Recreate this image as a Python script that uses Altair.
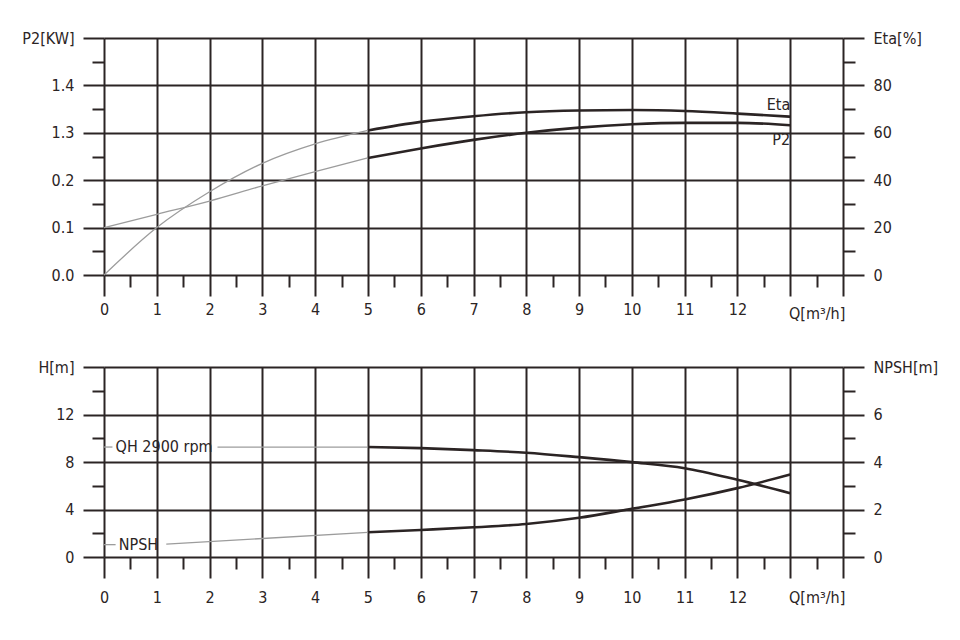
import json
import altair as alt
import pandas as pd

# ---------------- data ----------------
# upper panel: power P2 [kW] (left axis) and efficiency Eta [%] (right axis)
q_main = [5, 6, 7, 8, 9, 10, 11, 12, 13]
eta_main = [61.0, 64.6, 67.0, 68.7, 69.4, 69.6, 69.2, 68.1, 66.8]
p2_main = [0.247, 0.267, 0.285, 0.300, 0.311, 0.318, 0.321, 0.321, 0.316]
q_lead = [0, 1, 2, 3, 4, 5]
eta_lead = [0, 20.0, 35.1, 47.1, 55.3, 61.0]
p2_lead = [0.100, 0.128, 0.156, 0.188, 0.218, 0.247]

# lower panel: head H [m] (left axis) and NPSH [m] (right axis)
h_main = [9.26, 9.17, 9.00, 8.78, 8.41, 7.99, 7.48, 6.50, 5.37]
npsh_main = [1.04, 1.14, 1.25, 1.39, 1.65, 2.03, 2.42, 2.90, 3.47]
qh_lead_q = [0, 0.16, 2.15, 5]
qh_lead_h = [9.26, 9.26, 9.26, 9.26]
qh_lead_seg = [0, 0, 1, 1]
npsh_lead_q = [0, 0.22, 1.18, 5]
npsh_lead_v = [0.52, 0.52, 0.54, 1.04]
npsh_lead_seg = [0, 0, 1, 1]

# curve labels
eta_label = {"q": 13, "v": 71.7, "text": "Eta"}
p2_label = {"q": 13, "v": 0.285, "text": "P2"}
qh_label = {"q": 0.22, "v": 9.30, "text": "QH 2900 rpm"}
npsh_label = {"q": 0.28, "v": 0.52, "text": "NPSH"}

# axis tick labels
x_tick_labels = [str(i) for i in range(13)] + ["", ""]
x_unit_label = "Q[m³/h]"
p2_tick_labels = ["0.0", "0.1", "0.2", "1.3", "1.4", "P2[KW]"]
eta_tick_labels = ["0", "20", "40", "60", "80", "Eta[%]"]
h_tick_labels = ["0", "4", "8", "12", "H[m]"]
npsh_tick_labels = ["0", "2", "4", "6", "NPSH[m]"]

# ---------------- styling ----------------
FONT = "DejaVu Sans Condensed, Liberation Sans Narrow, DejaVu Sans, sans-serif"
INK = "#2b2424"
LEAD = "#9c9c9c"
FS = 16
W = 739
H_TOP = 237
H_BOT = 190
MAJOR_TICK = 21
MINOR_TICK = 12


def is_minor(step_minor):
    return f"round(datum.value/{step_minor}) % 2 === 1"


def y_axis(major, top, labels, orient, grid):
    minor = major / 2
    n = int(round(top / minor))
    vals = [round(i * minor, 4) for i in range(n + 1)]
    expr = (f"round(datum.value/{minor}) % 2 ? '' : "
            f"{json.dumps(labels)}[round(datum.value/{major})]")
    return alt.Axis(
        orient=orient,
        values=vals,
        labelExpr=expr,
        title=None,
        grid=grid,
        gridColor=INK,
        gridWidth=2,
        gridOpacity={"condition": {"test": is_minor(minor), "value": 0}, "value": 1},
        domain=False,
        tickColor=INK,
        tickWidth=2,
        tickSize={"condition": {"test": is_minor(minor), "value": MINOR_TICK},
                  "value": MAJOR_TICK},
        labelPadding=9,
        labelFont=FONT,
        labelFontSize=FS,
        labelColor=INK,
        labelOverlap=False,
    )


x_vals = [i / 2 for i in range(29)]
x_expr = (f"datum.value === 13.5 ? '{x_unit_label}' : "
          f"round(datum.value*2) % 2 ? '' : {json.dumps(x_tick_labels)}[round(datum.value)]")


def x_axis(pad, unit_pad):
    return alt.Axis(
        values=x_vals,
        labelExpr=x_expr,
        title=None,
        grid=True,
        gridColor=INK,
        gridWidth=2,
        gridOpacity={"condition": {"test": is_minor(0.5), "value": 0}, "value": 1},
        domain=False,
        tickColor=INK,
        tickWidth=2,
        tickSize={"condition": {"test": is_minor(0.5), "value": MINOR_TICK},
                  "value": MAJOR_TICK},
        labelPadding={"condition": {"test": is_minor(0.5), "value": unit_pad},
                      "value": pad},
        labelFont=FONT,
        labelFontSize=FS,
        labelColor=INK,
        labelOverlap=False,
        labelFlush=False,
    )


x_scale = alt.Scale(domain=[0, 14], nice=False, zero=False)


def xq(ax):
    return alt.X("q:Q", scale=x_scale, axis=ax)


def line(df, ycol, yscale, yaxis, xax, color, width, detail=None):
    enc = dict(x=xq(xax), y=alt.Y(f"{ycol}:Q", scale=yscale, axis=yaxis))
    if detail:
        enc["detail"] = alt.Detail(f"{detail}:N")
    return alt.Chart(df).mark_line(
        color=color, strokeWidth=width, interpolate="monotone"
    ).encode(**enc)


def label(d, yscale, yaxis, xax, align):
    df = pd.DataFrame([d])
    return alt.Chart(df).mark_text(
        font=FONT, fontSize=FS, color=INK, align=align, baseline="middle"
    ).encode(x=xq(xax), y=alt.Y("v:Q", scale=yscale, axis=yaxis), text="text:N")


# ---------------- upper panel ----------------
x_top = x_axis(5, 18)
p2_scale = alt.Scale(domain=[0, 0.5], nice=False, zero=False)
eta_scale = alt.Scale(domain=[0, 100], nice=False, zero=False)
p2_axis = y_axis(0.1, 0.5, p2_tick_labels, "left", True)
eta_axis = y_axis(20, 100, eta_tick_labels, "right", False)

df_p2_main = pd.DataFrame({"q": q_main, "v": p2_main})
df_p2_lead = pd.DataFrame({"q": q_lead, "v": p2_lead})
df_eta_main = pd.DataFrame({"q": q_main, "v": eta_main})
df_eta_lead = pd.DataFrame({"q": q_lead, "v": eta_lead})

p2_layer = alt.layer(
    line(df_p2_lead, "v", p2_scale, p2_axis, x_top, LEAD, 1.3),
    line(df_p2_main, "v", p2_scale, p2_axis, x_top, INK, 2.6),
    label(p2_label, p2_scale, p2_axis, x_top, "right"),
)
eta_layer = alt.layer(
    line(df_eta_lead, "v", eta_scale, eta_axis, x_top, LEAD, 1.3),
    line(df_eta_main, "v", eta_scale, eta_axis, x_top, INK, 2.6),
    label(eta_label, eta_scale, eta_axis, x_top, "right"),
)
top = alt.layer(p2_layer, eta_layer).resolve_scale(y="independent").properties(
    width=W, height=H_TOP
)

# ---------------- lower panel ----------------
x_bot = x_axis(11, 20)
h_scale = alt.Scale(domain=[0, 16], nice=False, zero=False)
npsh_scale = alt.Scale(domain=[0, 8], nice=False, zero=False)
h_axis = y_axis(4, 16, h_tick_labels, "left", True)
npsh_axis = y_axis(2, 8, npsh_tick_labels, "right", False)

df_h_main = pd.DataFrame({"q": q_main, "v": h_main})
df_h_lead = pd.DataFrame({"q": qh_lead_q, "v": qh_lead_h, "seg": qh_lead_seg})
df_n_main = pd.DataFrame({"q": q_main, "v": npsh_main})
df_n_lead = pd.DataFrame({"q": npsh_lead_q, "v": npsh_lead_v, "seg": npsh_lead_seg})

h_layer = alt.layer(
    line(df_h_lead, "v", h_scale, h_axis, x_bot, LEAD, 1.3, detail="seg"),
    line(df_h_main, "v", h_scale, h_axis, x_bot, INK, 2.6),
    label(qh_label, h_scale, h_axis, x_bot, "left"),
)
n_layer = alt.layer(
    line(df_n_lead, "v", npsh_scale, npsh_axis, x_bot, LEAD, 1.3, detail="seg"),
    line(df_n_main, "v", npsh_scale, npsh_axis, x_bot, INK, 2.6),
    label(npsh_label, npsh_scale, npsh_axis, x_bot, "left"),
)
bottom = alt.layer(h_layer, n_layer).resolve_scale(y="independent").properties(
    width=W, height=H_BOT
)

chart = alt.vconcat(top, bottom, spacing=38).properties(
    padding={"left": 13, "top": 22, "right": 5, "bottom": 5},
    background="white",
).configure_view(stroke=None)

chart.save("out.html", embed_options={"renderer": "svg", "actions": False})
